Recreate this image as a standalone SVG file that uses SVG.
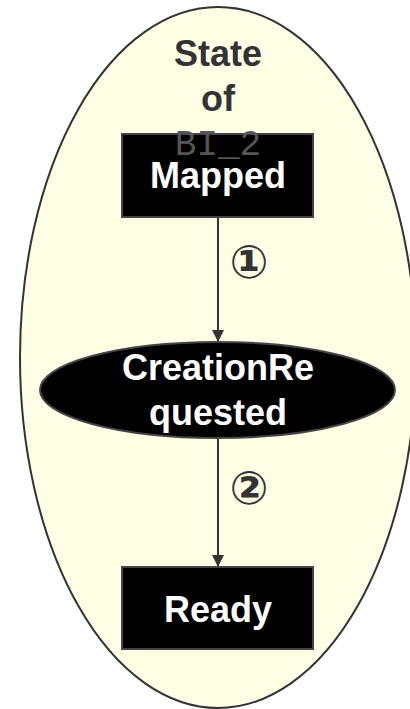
<svg xmlns="http://www.w3.org/2000/svg" width="410" height="709" viewBox="0 0 410 709">
<style>
.lbl{font-family:"Liberation Sans",Arial,sans-serif;font-weight:bold;font-size:36px;text-anchor:middle}
.w{fill:#ffffff}
.node{fill:#000000;stroke:#444444;stroke-width:2}
.edge{stroke:#333333;stroke-width:2;fill:none}
.num{font-family:"DejaVu Sans",sans-serif;font-weight:bold;font-size:46px;fill:#333333;text-anchor:middle}
</style>
<defs>
<marker id="arr" markerWidth="12" markerHeight="14" refX="12" refY="7" orient="auto" markerUnits="userSpaceOnUse">
<path d="M0,1 L12,7 L0,13 Z" fill="#333333"/>
</marker>
</defs>
<rect width="410" height="709" fill="#ffffff"/>
<g id="container">
<ellipse cx="218" cy="357.5" rx="198" ry="350.5" fill="#ffffe6" stroke="#333333" stroke-width="2"/>
<text class="lbl" x="218" y="66" fill="#333333">State</text>
<text class="lbl" x="218" y="111" fill="#333333">of</text>
</g>
<g id="connectors">
<line class="edge" x1="218" y1="218" x2="218" y2="342" marker-end="url(#arr)"/>
<text class="num" x="249" y="278">①</text>
<line class="edge" x1="218" y1="438" x2="218" y2="567" marker-end="url(#arr)"/>
<text class="num" x="249" y="504">②</text>
</g>
<g id="node-mapped">
<rect class="node" x="122" y="134" width="191" height="83"/>
<text x="218" y="155" font-family="'Liberation Mono','Courier New',monospace" font-size="36" fill="#555555" text-anchor="middle">BI_2</text>
<text class="lbl w" x="218" y="188">Mapped</text>
</g>
<g id="node-creationrequested">
<ellipse class="node" cx="217.5" cy="390" rx="177.5" ry="48"/>
<text class="lbl w" x="218" y="380">CreationRe</text>
<text class="lbl w" x="218" y="425">quested</text>
</g>
<g id="node-ready">
<rect class="node" x="122" y="567" width="191" height="82"/>
<text class="lbl w" x="218" y="622">Ready</text>
</g>
</svg>
